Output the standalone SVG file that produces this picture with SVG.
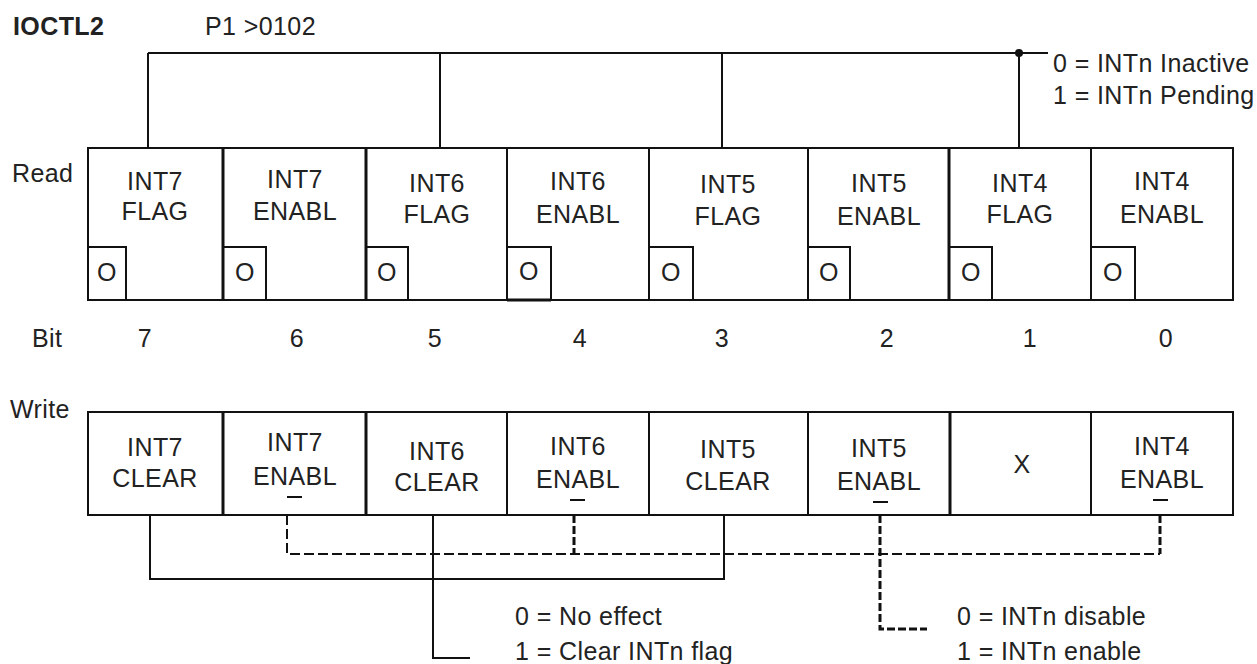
<svg xmlns="http://www.w3.org/2000/svg" width="1257" height="664" viewBox="0 0 1257 664">
<style>
text{font-family:"Liberation Sans",Arial,sans-serif;font-size:25px;letter-spacing:0.4px;fill:#222}
.c{text-anchor:middle}
.b{font-weight:bold}
.ln{stroke:#111;stroke-width:2;fill:none}
.th{stroke:#111;stroke-width:3;fill:none}
.bx{stroke:#111;stroke-width:2;fill:#fff}
.ds{stroke:#111;stroke-width:2;fill:none;stroke-dasharray:10 4}
.dsb{stroke:#111;stroke-width:3;fill:none;stroke-dasharray:8 3}
.ob{stroke:#111;stroke-width:2}
</style>
<rect width="1257" height="664" fill="#fff"/>
<g id="header">
<text class="b" x="13" y="35">IOCTL2</text>
<text x="205" y="35">P1 &gt;0102</text>
<text x="1053" y="72">0 = INTn Inactive</text>
<text x="1053" y="104">1 = INTn Pending</text>
<text x="12" y="182">Read</text>
<text x="32" y="347">Bit</text>
<text x="10" y="418">Write</text>
</g>
<g id="bits">
<text class="c" x="145" y="347">7</text>
<text class="c" x="297" y="347">6</text>
<text class="c" x="435" y="347">5</text>
<text class="c" x="580" y="347">4</text>
<text class="c" x="722" y="347">3</text>
<text class="c" x="887" y="347">2</text>
<text class="c" x="1030" y="347">1</text>
<text class="c" x="1166" y="347">0</text>
</g>
<g id="connectors">
<path class="ln" d="M148 53H1048M148 53V148M440 53V148M722 53V148M1019 53V148"/>
<circle cx="1019" cy="53" r="4" fill="#111"/>
<path class="ln" d="M150 515V579H724V515"/>
<path class="ln" d="M433 515V658H470"/>
<path class="ds" d="M287 515V554H1160"/>
<path class="dsb" d="M574 515V554M1160 515V554"/>
<path class="dsb" d="M880 515V629H927"/>
</g>
<g id="read-register">
<rect class="bx" x="88" y="148" width="1145" height="152"/>
<path class="th" d="M223 148V300M366 148V300M949 148V300"/>
<path class="ln" d="M507 148V300M649 148V300M808 148V300M1091 148V300"/>
<g id="r7f"><path class="ln" d="M88 247H126V300"/><text class="c" x="107" y="281">O</text>
<text class="c" x="155" y="190">INT7</text><text class="c" x="155" y="220">FLAG</text></g>
<g id="r7e"><path class="ln" d="M223 247H266V300"/><text class="c" x="245" y="281">O</text>
<text class="c" x="295" y="188">INT7</text><text class="c" x="295" y="220">ENABL</text></g>
<g id="r6f"><path class="ln" d="M366 247H408V300"/><text class="c" x="387" y="281">O</text>
<text class="c" x="437" y="192">INT6</text><text class="c" x="437" y="223">FLAG</text></g>
<g id="r6e"><path class="ln" d="M507 247H551V300"/><path class="th" d="M507 300H551"/><text class="c" x="529" y="280">O</text>
<text class="c" x="578" y="190">INT6</text><text class="c" x="578" y="223">ENABL</text></g>
<g id="r5f"><path class="ln" d="M649 247H693V300"/><text class="c" x="671" y="281">O</text>
<text class="c" x="728" y="193">INT5</text><text class="c" x="728" y="225">FLAG</text></g>
<g id="r5e"><path class="ln" d="M808 247H850V300"/><text class="c" x="829" y="281">O</text>
<text class="c" x="879" y="192">INT5</text><text class="c" x="879" y="225">ENABL</text></g>
<g id="r4f"><path class="ln" d="M949 247H992V300"/><text class="c" x="971" y="281">O</text>
<text class="c" x="1020" y="192">INT4</text><text class="c" x="1020" y="223">FLAG</text></g>
<g id="r4e"><path class="ln" d="M1091 247H1135V300"/><text class="c" x="1113" y="281">O</text>
<text class="c" x="1162" y="190">INT4</text><text class="c" x="1162" y="223">ENABL</text></g>
</g>
<g id="write-register">
<rect class="bx" x="88" y="412" width="1145" height="103"/>
<path class="th" d="M223 412V515M366 412V515M950 412V515"/>
<path class="ln" d="M507 412V515M649 412V515M808 412V515M1091 412V515"/>
<g id="w7c"><text class="c" x="155" y="456">INT7</text><text class="c" x="155" y="487">CLEAR</text></g>
<g id="w7e"><text class="c" x="295" y="451">INT7</text><text class="c" x="295" y="485">ENABL</text><path class="ob" d="M287 497H302"/></g>
<g id="w6c"><text class="c" x="437" y="460">INT6</text><text class="c" x="437" y="491">CLEAR</text></g>
<g id="w6e"><text class="c" x="578" y="455">INT6</text><text class="c" x="578" y="488">ENABL</text><path class="ob" d="M570 500H585"/></g>
<g id="w5c"><text class="c" x="728" y="458">INT5</text><text class="c" x="728" y="490">CLEAR</text></g>
<g id="w5e"><text class="c" x="879" y="457">INT5</text><text class="c" x="879" y="490">ENABL</text><path class="ob" d="M873 502H888"/></g>
<g id="wx"><text class="c" x="1022" y="473">X</text></g>
<g id="w4e"><text class="c" x="1162" y="455">INT4</text><text class="c" x="1162" y="488">ENABL</text><path class="ob" d="M1153 500H1168"/></g>
</g>
<g id="legends">
<text x="515" y="625">0 = No effect</text>
<text x="515" y="660">1 = Clear INTn flag</text>
<text x="957" y="625">0 = INTn disable</text>
<text x="957" y="660">1 = INTn enable</text>
</g>
</svg>
